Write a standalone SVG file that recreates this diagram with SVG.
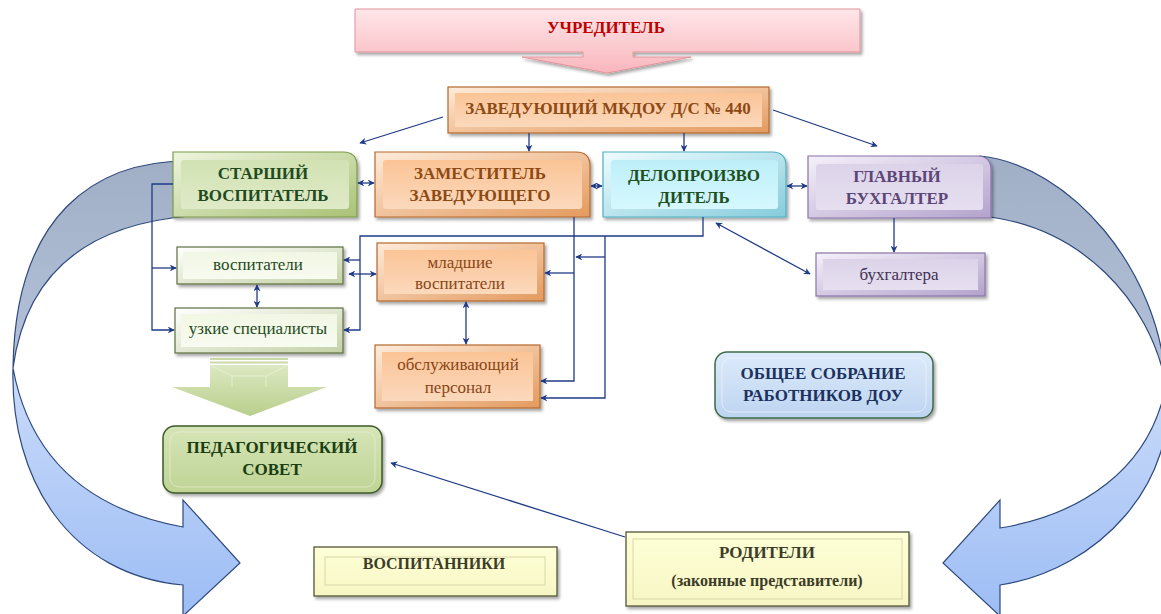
<svg xmlns="http://www.w3.org/2000/svg" width="1161" height="614" viewBox="0 0 1161 614">
<defs>
<style>
.t{font-family:"Liberation Serif","Times New Roman",serif;text-anchor:middle}
.b{font-weight:bold;font-size:17px}
.n{font-size:17px}
.c{fill:none;stroke:#1F3A86;stroke-width:1.3}
.ce{marker-end:url(#ah)}
.cb{marker-start:url(#ah);marker-end:url(#ah)}
.sh{filter:url(#ds)}
</style>
<filter id="ds" x="-10%" y="-10%" width="125%" height="135%">
<feDropShadow dx="2" dy="2.5" stdDeviation="1.5" flood-color="#000" flood-opacity="0.35"/>
</filter>
<marker id="ah" viewBox="0 0 10 10" refX="9" refY="5" markerWidth="7" markerHeight="7" markerUnits="userSpaceOnUse" orient="auto-start-reverse">
<path d="M0,0 L10,5 L0,10 L3,5 Z" fill="#1F3A86"/>
</marker>
<linearGradient id="gBack" x1="0" y1="0" x2="0" y2="1"><stop offset="0" stop-color="#A1AFC6"/><stop offset="1" stop-color="#B3C2DA"/></linearGradient>
<linearGradient id="gFront" x1="0" y1="0" x2="0" y2="1"><stop offset="0" stop-color="#CADBF9"/><stop offset="1" stop-color="#9DBDF5"/></linearGradient>
<linearGradient id="fPink" x1="0" y1="0" x2="0" y2="1"><stop offset="0" stop-color="#FFE6E9"/><stop offset="1" stop-color="#F8B6BD"/></linearGradient>
<linearGradient id="frOr" x1="0" y1="0" x2="1" y2="1"><stop offset="0" stop-color="#FEEBDA"/><stop offset="1" stop-color="#E39A5E"/></linearGradient>
<linearGradient id="faOr" x1="0" y1="0" x2="0" y2="1"><stop offset="0" stop-color="#FBC496"/><stop offset="1" stop-color="#FBD9BC"/></linearGradient>
<linearGradient id="frGr" x1="0" y1="0" x2="1" y2="1"><stop offset="0" stop-color="#EEF5DF"/><stop offset="1" stop-color="#A9C275"/></linearGradient>
<linearGradient id="faGr" x1="0" y1="0" x2="0" y2="1"><stop offset="0" stop-color="#D2E2B2"/><stop offset="1" stop-color="#DFEAC8"/></linearGradient>
<linearGradient id="frCy" x1="0" y1="0" x2="1" y2="1"><stop offset="0" stop-color="#EEFDFF"/><stop offset="1" stop-color="#86CCDB"/></linearGradient>
<linearGradient id="faCy" x1="0" y1="0" x2="0" y2="1"><stop offset="0" stop-color="#BDEFF9"/><stop offset="1" stop-color="#D6F8FE"/></linearGradient>
<linearGradient id="frPu" x1="0" y1="0" x2="1" y2="1"><stop offset="0" stop-color="#F5F1FA"/><stop offset="1" stop-color="#B3A2CC"/></linearGradient>
<linearGradient id="faPu" x1="0" y1="0" x2="0" y2="1"><stop offset="0" stop-color="#DCD3E9"/><stop offset="1" stop-color="#E6DFF0"/></linearGradient>
<linearGradient id="frLg" x1="0" y1="0" x2="1" y2="1"><stop offset="0" stop-color="#FFFFFF"/><stop offset="1" stop-color="#C3D1A6"/></linearGradient>
<linearGradient id="faLg" x1="0" y1="0" x2="0" y2="1"><stop offset="0" stop-color="#F1F7E4"/><stop offset="1" stop-color="#F8FBF0"/></linearGradient>
<linearGradient id="faYe" x1="0" y1="0" x2="0" y2="1"><stop offset="0" stop-color="#FFFFD8"/><stop offset="1" stop-color="#F6F6C4"/></linearGradient>
<linearGradient id="faPs" x1="0" y1="0" x2="0" y2="1"><stop offset="0" stop-color="#D6E5B8"/><stop offset="1" stop-color="#BFD494"/></linearGradient>
<linearGradient id="faBl" x1="0" y1="0" x2="0" y2="1"><stop offset="0" stop-color="#DDEBFB"/><stop offset="1" stop-color="#BDD4F0"/></linearGradient>
<linearGradient id="fArG" x1="0" y1="0" x2="0" y2="1"><stop offset="0" stop-color="#DCE8C2"/><stop offset="1" stop-color="#B9CF8C"/></linearGradient>
</defs>

<rect width="1161" height="614" fill="#FFFFFF"/>

<g id="big-arrows">
<path d="M190,161 C95,160 15,215 13,368 C25,280 80,225 190,216 Z" fill="url(#gBack)" stroke="#2E4A7D" stroke-width="1.2"/>
<path d="M13,368 C10,480 70,575 183,585 L183,616 L240,563 L183,500 L183,527 C90,510 30,460 13,368 Z" fill="url(#gFront)" stroke="#2E4A7D" stroke-width="1.2"/>
<path d="M980,156 C1070,165 1160,270 1166,385 C1150,300 1080,225 980,216 Z" fill="url(#gBack)" stroke="#2E4A7D" stroke-width="1.2"/>
<path d="M1166,385 C1180,480 1100,570 1000,585 L1000,616 L943,563 L1000,500 L1000,528 C1080,515 1150,470 1166,385 Z" fill="url(#gFront)" stroke="#2E4A7D" stroke-width="1.2"/>
</g>

<g id="n-uchreditel">
<path class="sh" d="M355,9 H860 V52 H633 V57 H691 L607,73 L522,57 H583 V52 H355 Z" fill="url(#fPink)" stroke="#E3939B" stroke-width="1"/>
<text class="t b" x="606" y="33" fill="#C00000">УЧРЕДИТЕЛЬ</text>
</g>

<g id="n-zaveduyushchiy">
<rect class="sh" x="448" y="87" width="321" height="46" fill="url(#frOr)" stroke="#B5692F" stroke-width="1.2"/>
<rect x="455" y="93" width="307" height="34" fill="url(#faOr)"/>
<text class="t b" x="608" y="114" fill="#8E4A14">ЗАВЕДУЮЩИЙ МКДОУ Д/С № 440</text>
</g>

<g id="n-starshiy">
<path class="sh" d="M173,152 H343 Q357,152 357,166 V217 H173 Z" fill="url(#frGr)" stroke="#7C9A48" stroke-width="1.2"/>
<rect x="181" y="160" width="168" height="49" rx="3" fill="url(#faGr)"/>
<text class="t b" x="263" y="179" fill="#1F4B1F">СТАРШИЙ</text>
<text class="t b" x="263" y="201" fill="#1F4B1F">ВОСПИТАТЕЛЬ</text>
</g>

<g id="n-zamestitel">
<path class="sh" d="M375,152 H576 Q590,152 590,166 V217 H375 Z" fill="url(#frOr)" stroke="#B5692F" stroke-width="1.2"/>
<rect x="383" y="160" width="199" height="49" rx="3" fill="url(#faOr)"/>
<text class="t b" x="480" y="179" fill="#8E4A14">ЗАМЕСТИТЕЛЬ</text>
<text class="t b" x="480" y="201" fill="#8E4A14">ЗАВЕДУЮЩЕГО</text>
</g>

<g id="n-deloproizvoditel">
<path class="sh" d="M603,152 H772 Q786,152 786,166 V217 H603 Z" fill="url(#frCy)" stroke="#4FAFC3" stroke-width="1.2"/>
<rect x="611" y="160" width="167" height="49" rx="3" fill="url(#faCy)"/>
<text class="t b" x="694" y="181" fill="#1E4F1E">ДЕЛОПРОИЗВО</text>
<text class="t b" x="694" y="203" fill="#1E4F1E">ДИТЕЛЬ</text>
</g>

<g id="n-glavbuh">
<path class="sh" d="M808,156 H977 Q991,156 991,170 V218 H808 Z" fill="url(#frPu)" stroke="#8A75A8" stroke-width="1.2"/>
<rect x="816" y="164" width="167" height="46" rx="3" fill="url(#faPu)"/>
<text class="t b" x="897" y="182" fill="#5C4677">ГЛАВНЫЙ</text>
<text class="t b" x="897" y="204" fill="#5C4677">БУХГАЛТЕР</text>
</g>

<g id="n-buhgaltera">
<rect class="sh" x="816" y="253" width="169" height="43" fill="url(#frPu)" stroke="#8A75A8" stroke-width="1.2"/>
<rect x="823" y="259" width="155" height="31" fill="url(#faPu)"/>
<text class="t n" x="899" y="280" fill="#403152">бухгалтера</text>
</g>

<g id="n-vospitateli">
<rect class="sh" x="177" y="247" width="166" height="37" fill="url(#frLg)" stroke="#5F6F3F" stroke-width="1.2"/>
<rect x="183" y="252" width="154" height="27" fill="url(#faLg)"/>
<text class="t n" x="258" y="270" fill="#1F4B1F">воспитатели</text>
</g>

<g id="n-uzkie">
<rect class="sh" x="175" y="308" width="168" height="45" fill="url(#frLg)" stroke="#5F6F3F" stroke-width="1.2"/>
<rect x="181" y="314" width="156" height="33" fill="url(#faLg)"/>
<text class="t n" x="258" y="334" fill="#1F4B1F">узкие специалисты</text>
</g>

<g id="n-mladshie">
<rect class="sh" x="377" y="243" width="167" height="58" fill="url(#frOr)" stroke="#B5692F" stroke-width="1.2"/>
<rect x="384" y="250" width="153" height="44" fill="url(#faOr)"/>
<text class="t n" x="460" y="268" fill="#8A4516">младшие</text>
<text class="t n" x="460" y="289" fill="#8A4516">воспитатели</text>
</g>

<g id="n-obsluzh">
<rect class="sh" x="375" y="345" width="165" height="63" fill="url(#frOr)" stroke="#B5692F" stroke-width="1.2"/>
<rect x="382" y="352" width="151" height="49" fill="url(#faOr)"/>
<text class="t n" x="458" y="370" fill="#8A4516">обслуживающий</text>
<text class="t n" x="458" y="393" fill="#8A4516">персонал</text>
</g>

<g id="green-block-arrow">
<rect x="210" y="358" width="78" height="2" fill="#C9D9A6"/>
<rect x="210" y="361.5" width="78" height="2" fill="#C9D9A6"/>
<path d="M210,365 H288 V387 H327 L250,416 L172,387 H210 Z" fill="url(#fArG)"/>
<path d="M210,365 L232,376 H266 L288,365 M232,376 V387 M266,376 V387" fill="none" stroke="#EAF2D8" stroke-width="1" opacity="0.8"/>
</g>

<g id="n-pedsovet">
<rect class="sh" x="163" y="426" width="219" height="67" rx="12" fill="url(#faPs)" stroke="#3D5A27" stroke-width="1.5"/>
<rect x="170" y="432" width="205" height="55" rx="9" fill="none" stroke="#E8F0D6" stroke-width="1" opacity="0.7"/>
<text class="t b" x="272" y="453" fill="#1A3E12">ПЕДАГОГИЧЕСКИЙ</text>
<text class="t b" x="272" y="475" fill="#1A3E12">СОВЕТ</text>
</g>

<g id="n-obshchee">
<rect class="sh" x="715" y="352" width="218" height="66" rx="12" fill="url(#faBl)" stroke="#3E6B48" stroke-width="1.5"/>
<rect x="722" y="358" width="204" height="54" rx="9" fill="none" stroke="#EEF5FD" stroke-width="1" opacity="0.7"/>
<text class="t b" x="823" y="379" fill="#1B3160">ОБЩЕЕ СОБРАНИЕ</text>
<text class="t b" x="823" y="401" fill="#1B3160">РАБОТНИКОВ ДОУ</text>
</g>

<g id="n-vospitanniki">
<rect class="sh" x="314" y="547" width="243" height="49" fill="url(#faYe)" stroke="#55553A" stroke-width="1.3"/>
<rect x="325" y="557" width="220" height="28" fill="none" stroke="#D8D8A8" stroke-width="1"/>
<text class="t b" x="434" y="569" fill="#3C3C28" style="font-size:16px">ВОСПИТАННИКИ</text>
</g>

<g id="n-roditeli">
<rect class="sh" x="626" y="532" width="283" height="74" fill="url(#faYe)" stroke="#55553A" stroke-width="1.3"/>
<rect x="633" y="539" width="269" height="60" fill="none" stroke="#D8D8A8" stroke-width="1"/>
<text class="t b" x="767" y="558" fill="#3C3C28">РОДИТЕЛИ</text>
<text class="t b" x="767" y="586" fill="#3C3C28" style="font-size:16px">(законные представители)</text>
</g>

<g id="connectors">
<line class="c ce" x1="443" y1="117" x2="360" y2="143"/>
<line class="c ce" x1="529" y1="133" x2="529" y2="151"/>
<line class="c ce" x1="684" y1="133" x2="684" y2="151"/>
<line class="c ce" x1="773" y1="110" x2="877" y2="146"/>
<line class="c cb" x1="358" y1="183" x2="374" y2="183"/>
<line class="c cb" x1="591" y1="186" x2="602" y2="186"/>
<line class="c cb" x1="787" y1="186" x2="807" y2="186"/>
<line class="c cb" x1="716" y1="223" x2="810" y2="274"/>
<line class="c ce" x1="894" y1="218" x2="894" y2="252"/>
<polyline class="c ce" points="173,184 152,184 152,330 174,330"/>
<line class="c ce" x1="152" y1="268" x2="176" y2="268"/>
<polyline class="c ce" points="703,217 703,236 360,236 360,330 344,330"/>
<line class="c ce" x1="360" y1="260" x2="344" y2="260"/>
<line class="c cb" x1="349" y1="274" x2="376" y2="274"/>
<line class="c cb" x1="257" y1="285" x2="257" y2="307"/>
<polyline class="c ce" points="574,217 574,381 541,381"/>
<line class="c ce" x1="574" y1="273" x2="545" y2="273"/>
<polyline class="c ce" points="605,236 605,398 541,398"/>
<line class="c ce" x1="605" y1="257" x2="576" y2="257"/>
<line class="c cb" x1="466" y1="302" x2="466" y2="344"/>
<line class="c ce" x1="625" y1="537" x2="391" y2="463"/>
</g>
</svg>
